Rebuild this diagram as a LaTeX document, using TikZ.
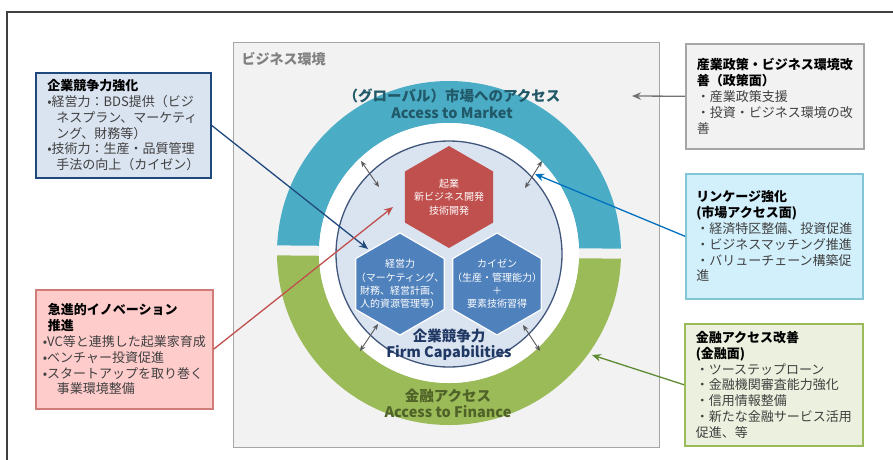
\documentclass[tikz,border=0pt]{standalone}
\usepackage{fontspec}
\setmainfont{Noto Sans CJK JP}
\usepackage{tikz}
\usetikzlibrary{arrows.meta, shapes, shapes.geometric, positioning, calc}

\definecolor{mktblue}{HTML}{4BACC6}
\definecolor{finggreen}{HTML}{9BBB59}
\definecolor{envgrey}{HTML}{F2F2F2}
\definecolor{envline}{HTML}{A6A6A6}
\definecolor{coreblue}{HTML}{DAE3F0}
\definecolor{navy}{HTML}{1F3864}
\definecolor{hexred}{HTML}{C0504D}
\definecolor{hexblue}{HTML}{4F81BD}
\definecolor{mkttext}{HTML}{215968}
\definecolor{fintext}{HTML}{4F6228}
\definecolor{itemgrey}{HTML}{404040}
\definecolor{linkblue}{HTML}{0070C0}
\definecolor{linkgreen}{HTML}{5E8A32}
\definecolor{boxnavy}{HTML}{1F497D}

\newcommand{\bodyfont}{\fontsize{13}{15.8}\selectfont}
\newcommand{\ind}[1]{\hspace*{#1pt}}

\begin{document}
\begin{tikzpicture}[x=1pt, y=-1pt]
\tikzset{
  infobox/.style={draw, line width=1.5pt, anchor=north west, align=left,
    inner xsep=7pt, inner ysep=0pt, font=\bodyfont, text=itemgrey},
  hexagon/.style={regular polygon, regular polygon sides=6, shape border rotate=30,
    minimum size=102pt, inner sep=0pt},
  hexlabel/.style={align=center, text=white, font=\fontsize{10}{13.4}\selectfont},
  dblarrow/.style={{Stealth[length=6pt,width=5pt]}-{Stealth[length=6pt,width=5pt]},
    draw=black!65, line width=0.9pt},
  linkarrow/.style={-{Stealth[length=9pt,width=7.5pt]}, line width=1.3pt}
}
\useasboundingbox (0,0) rectangle (893,459);
\fill[white] (0,0) rectangle (893,459);
\draw[black!75, line width=1.3pt] (7,470) -- (7,12) -- (900,12);

% business environment
\node[draw=envline, fill=envgrey, line width=1.2pt, minimum width=426pt, minimum height=405pt,
  anchor=north west, inner sep=0pt] (env) at (233,42) {};
\node[anchor=west, text=black!50, font=\fontsize{14}{16}\selectfont\bfseries] (envlbl) at (238,59) {ビジネス環境};

\coordinate (ctr) at (449,253);
\begin{scope}
\clip (240,45) -- (655,45) -- (655,249) -- (240,245) -- cycle;
\fill[mktblue, even odd rule] (ctr) circle[radius=172] (ctr) circle[radius=130];
\end{scope}
\begin{scope}
\clip (240,255) -- (655,259) -- (655,445) -- (240,445) -- cycle;
\fill[finggreen, even odd rule] (ctr) circle[radius=172] (ctr) circle[radius=130];
\end{scope}
\fill[white] (ctr) circle[radius=130];
\filldraw[fill=coreblue, draw=navy!85, line width=1.3pt] (449,254) circle[radius=113];

\node[hexagon, fill=hexred] (hexK) at (449,197) {};
\node[hexagon, fill=hexblue, draw=white, line width=1.2pt] (hexM) at (400,284) {};
\node[hexagon, fill=hexblue, draw=white, line width=1.2pt] (hexC) at (497,284) {};
\node[hexlabel] (txtK) at (hexK) {起業\\新ビジネス開発\\技術開発};
\node[hexlabel] (txtM) at (hexM) {経営力\\（マーケティング、\\財務、経営計画、\\人的資源管理等）};
\node[hexlabel] (txtC) at (hexC) {カイゼン\\（生産・管理能力）\\＋\\要素技術習得};

\node[align=center, text=navy, font=\fontsize{14.5}{16}\selectfont\bfseries] (core) at (449,345)
  {企業競争力\\Firm Capabilities};
\node[align=center, text=mkttext, font=\fontsize{14.5}{17}\selectfont\bfseries] (mkt) at (452,104)
  {（グローバル）市場へのアクセス\\Access to Market};
\node[align=center, text=fintext, font=\fontsize{14.5}{16}\selectfont\bfseries] (fin) at (448,403)
  {金融アクセス\\Access to Finance};

\draw[dblarrow] (361,161) -- (379,187);
\draw[dblarrow] (542,161) -- (525,188);
\draw[dblarrow] (378,324) -- (360,351);
\draw[dblarrow] (523,325) -- (540,351);

% policy boxes
\node[infobox, draw=boxnavy, fill=coreblue, minimum width=175pt, minimum height=105pt] (boxA) at (35,72)
  {\textcolor{black}{\bfseries 企業競争力強化}\\
   •経営力：BDS提供（ビジ\\\ind{9}ネスプラン、マーケティ\\\ind{9}ング、財務等）\\
   •技術力：生産・品質管理\\\ind{9}手法の向上（カイゼン）};
\node[infobox, draw=hexred!75, fill=red!20, minimum width=175pt, minimum height=119pt] (boxB) at (35,289)
  {\textcolor{black}{\bfseries\ind{5}急進的イノベーション}\\\textcolor{black}{\bfseries\ind{5}推進}\\
   •VC等と連携した起業家育成\\•ベンチャー投資促進\\•スタートアップを取り巻く\\\ind{14}事業環境整備};
\node[infobox, draw=envline, fill=envgrey, minimum width=178pt, minimum height=105pt] (boxC) at (685,43)
  {\textcolor{black}{\bfseries 産業政策・ビジネス環境改}\\\textcolor{black}{\bfseries 善（政策面）}\\
   ・産業政策支援\\・投資・ビジネス環境の改\\善};
\node[infobox, draw=mktblue!70, fill=cyan!18, minimum width=177pt, minimum height=125pt] (boxD) at (685,173)
  {\textcolor{black}{\bfseries リンケージ強化}\\\textcolor{black}{\bfseries (市場アクセス面)}\\
   ・経済特区整備、投資促進\\・ビジネスマッチング推進\\・バリューチェーン構築促\\進};
\node[infobox, draw=finggreen, fill=finggreen!20, minimum width=178pt, minimum height=122pt] (boxE) at (684,323)
  {\textcolor{black}{\bfseries 金融アクセス改善}\\\textcolor{black}{\bfseries (金融面)}\\
   ・ツーステップローン\\・金融機関審査能力強化\\・信用情報整備\\・新たな金融サービス活用\\促進、等};

\coordinate (tgtA) at (368,249);
\coordinate (tgtB) at (393,207);
\coordinate (tgtC) at (632,96);
\coordinate (tgtD) at (535,174);
\coordinate (tgtE) at (592,355);
\draw[linkarrow, boxnavy] (boxA.east) -- (tgtA);
\draw[linkarrow, hexred] (boxB.east) -- (tgtB);
\draw[linkarrow, black!55] (boxC.west) -- (tgtC);
\draw[linkarrow, linkblue] (boxD.west) -- (tgtD);
\draw[linkarrow, linkgreen] (boxE.west) -- (tgtE);
\end{tikzpicture}
\end{document}
